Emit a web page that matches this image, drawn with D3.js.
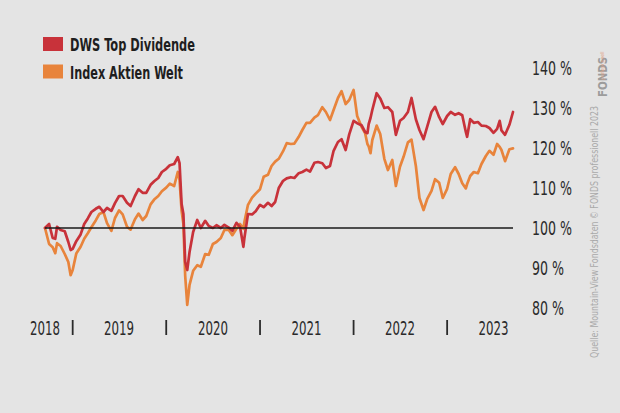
<!DOCTYPE html>
<html><head><meta charset="utf-8">
<script src="https://cdn.jsdelivr.net/npm/d3@7/dist/d3.min.js"></script>
<style>
html,body{margin:0;padding:0;background:#e4e4e4;}
svg{display:block;}
text{font-family:"Liberation Sans Narrow","DejaVu Sans Condensed","Roboto",sans-serif;}
</style></head>
<body>
<svg id="c" width="620" height="413"></svg>
<script>
const seriesNames = ["DWS Top Dividende", "Index Aktien Welt"];
const seriesColors = ["#c8323a", "#e8843c"];
const yTicks = [80, 90, 100, 110, 120, 130, 140];
const yearLabels = ["2018", "2019", "2020", "2021", "2022", "2023"];
const yearLabelDates = ["2018-09-15", "2019-07-01", "2020-07-01", "2021-07-01", "2022-07-01", "2023-07-01"];
const yearBreaks = ["2019-01-01", "2020-01-01", "2021-01-01", "2022-01-01", "2023-01-01"];

const dates = [
"2018-09-15","2018-10-01","2018-10-15","2018-10-25","2018-11-01","2018-11-15","2018-12-01","2018-12-15","2018-12-24",
"2019-01-01","2019-01-15","2019-02-01","2019-02-15","2019-03-01","2019-03-15","2019-04-01","2019-04-15","2019-05-01","2019-05-15",
"2019-06-01","2019-06-15","2019-07-01","2019-07-15","2019-08-01","2019-08-15","2019-09-01","2019-09-15","2019-10-01","2019-10-15",
"2019-11-01","2019-11-15","2019-12-01","2019-12-15",
"2020-01-01","2020-01-15","2020-02-01","2020-02-15","2020-02-22","2020-03-01","2020-03-08","2020-03-15","2020-03-23","2020-04-01",
"2020-04-15","2020-05-01","2020-05-15","2020-06-01","2020-06-15","2020-07-01","2020-07-15","2020-08-01","2020-08-15","2020-09-01",
"2020-09-15","2020-10-01","2020-10-15","2020-10-28","2020-11-01","2020-11-15","2020-12-01","2020-12-15",
"2021-01-01","2021-01-15","2021-02-01","2021-02-15","2021-03-01","2021-03-15","2021-04-01","2021-04-15","2021-05-01","2021-05-15",
"2021-06-01","2021-06-15","2021-07-01","2021-07-15","2021-08-01","2021-08-15","2021-09-01","2021-09-15","2021-10-01","2021-10-15",
"2021-11-01","2021-11-15","2021-12-01","2021-12-15",
"2022-01-01","2022-01-15","2022-02-01","2022-02-15","2022-02-24","2022-03-01","2022-03-08","2022-03-15","2022-04-01","2022-04-15",
"2022-05-01","2022-05-15","2022-06-01","2022-06-15","2022-07-01","2022-07-15","2022-08-01","2022-08-15","2022-09-01","2022-09-15",
"2022-10-01","2022-10-15","2022-11-01","2022-11-15","2022-12-01","2022-12-15",
"2023-01-01","2023-01-15","2023-02-01","2023-02-15","2023-03-01","2023-03-15","2023-03-20","2023-04-01","2023-04-15","2023-05-01",
"2023-05-15","2023-06-01","2023-06-15","2023-07-01","2023-07-15","2023-07-25","2023-08-01","2023-08-15","2023-09-01","2023-09-15"
];

const dwsValues = [
100,101,97.5,97.3,100.3,99.5,99.2,96.5,94.5,
94.8,96.7,98.4,101,102.4,104,104.8,105.3,104,105,
104.3,106.2,108,108,106.3,105.5,108,109.7,108.8,108.8,
110.8,111.7,112.5,114,
114.8,115.7,116,117.7,116.2,106,103.5,91.5,89.5,94,
99,102,100,101.8,100.5,100,100.7,100,100.8,100.1,
99.3,101.3,100.3,95.3,97.5,103.5,103.4,104.2,
105.8,105.2,106.3,105.5,106.5,110,111.8,112.4,112.7,112.5,
113.7,114,114.6,114.1,116.3,116.5,116.2,115,115.5,119.3,
121.5,122.2,119.5,123.4,
126.8,126.2,125.7,124,123.7,126,127.5,129.5,133.7,132.4,
130,130.2,129,123.3,126.8,127.5,129,132.5,127.2,124.5,
122.2,125.3,129,130.3,127.7,126,
128,129,128.3,128.7,128.2,124,122.8,127.2,126.3,126.5,
125.6,125.5,125,123.8,124.8,126.8,124.4,123.3,125.8,129
];

const indexValues = [
100,96,95.2,93.7,96.2,95.5,93.5,91.5,88.2,
89.5,93.6,95.3,97.3,98.7,100.2,101.9,103.5,104,101.2,
99.3,102.5,104.4,103.4,100.3,99.6,102.2,103.6,102,103,
105.9,107.1,108,109.2,
110.1,111.1,110.5,114,112,104.3,101,88,80.8,85.8,
89.3,90.7,90.3,93.5,93.3,96,96.5,97.5,99.5,99.5,
98.2,99.8,101,99.8,101.5,105.8,107.6,108.6,
109.7,112.8,113.3,115.5,116.6,117.3,119.2,121.2,121,121.1,
122.8,124.5,126.3,126.3,127.6,128.2,130.2,129,127,129.5,
132.5,134.2,131,132,
134.5,128,125.3,123.7,121,120.4,118.7,122,125.6,123.5,
117.3,114.5,117,110.5,115.3,117.8,121.4,122.1,115.5,107.5,
104.5,107.2,109.3,112.2,111.3,107.5,
109.8,113.5,115.2,113.5,111.2,109.9,111,113,114,113.7,
116,118,119.3,118.3,121,120.3,119.5,116.7,119.7,119.9
];

const parse = d3.timeParse("%Y-%m-%d");
const series = [
  dates.map((d, i) => ({date: parse(d), v: dwsValues[i]})),
  dates.map((d, i) => ({date: parse(d), v: indexValues[i]}))
];

const svg = d3.select("#c");
svg.append("rect").attr("width", 620).attr("height", 413).attr("fill", "#e4e4e4");

const x = d3.scaleTime().domain([parse("2018-09-15"), parse("2023-09-15")]).range([45, 513]);
const y = d3.scaleLinear().domain([80, 140]).range([308, 68]);

const line = d3.line().x(d => x(d.date)).y(d => y(d.v)).curve(d3.curveLinear);

[1, 0].forEach(i => {
  svg.append("path").datum(series[i])
    .attr("fill", "none").attr("stroke", seriesColors[i])
    .attr("stroke-width", 2.7).attr("stroke-linejoin", "round").attr("stroke-linecap", "round")
    .attr("d", line);
});

svg.append("line")
  .attr("x1", x.range()[0]).attr("x2", x.range()[1])
  .attr("y1", y(100)).attr("y2", y(100))
  .attr("stroke", "#1a1a1a").attr("stroke-width", 1.4);

// y labels
svg.append("g").selectAll("text").data(yTicks).join("text")
  .attr("x", 532).attr("y", d => y(d)).attr("dy", "0.36em")
  .attr("font-size", 20).attr("fill", "#2a2a2a")
  .attr("textLength", d => d >= 100 ? 40 : 32).attr("lengthAdjust", "spacingAndGlyphs")
  .text(d => d + " %");

// x labels
svg.append("g").selectAll("text").data(yearLabels).join("text")
  .attr("x", (d, i) => x(parse(yearLabelDates[i])) - 15).attr("y", 335)
  .attr("font-size", 20).attr("fill", "#2a2a2a")
  .attr("textLength", 30).attr("lengthAdjust", "spacingAndGlyphs")
  .text(d => d);

svg.append("g").selectAll("line").data(yearBreaks).join("line")
  .attr("x1", d => x(parse(d))).attr("x2", d => x(parse(d)))
  .attr("y1", 320).attr("y2", 335)
  .attr("stroke", "#2a2a2a").attr("stroke-width", 1.8);

// legend
const legendWidths = [125, 113];
const lg = svg.append("g");
seriesNames.forEach((n, i) => {
  lg.append("rect").attr("x", 43).attr("y", 37 + i * 27.5).attr("width", 20).attr("height", 14)
    .attr("fill", seriesColors[i]);
  lg.append("text").attr("x", 70).attr("y", 51 + i * 27.5)
    .attr("font-size", 18).attr("font-weight", "bold").attr("fill", "#1e1e1e")
    .attr("textLength", legendWidths[i]).attr("lengthAdjust", "spacingAndGlyphs")
    .text(n);
});

// credits
svg.append("text")
  .attr("transform", "translate(598,358) rotate(-90)")
  .attr("font-size", 11).attr("fill", "#a9a9a9")
  .attr("textLength", 252).attr("lengthAdjust", "spacingAndGlyphs")
  .text("Quelle: Mountain-View Fondsdaten   © FONDS professionell 2023");
svg.append("text")
  .attr("transform", "translate(607,97) rotate(-90)")
  .attr("font-size", 13).attr("font-weight", "bold").attr("fill", "#9c9c9c")
  .attr("textLength", 40).attr("lengthAdjust", "spacingAndGlyphs")
  .text("FONDS");
svg.append("text")
  .attr("transform", "translate(604,80) rotate(-90)")
  .attr("font-size", 5).attr("fill", "#e0a080")
  .text("professionell");
</script>
</body></html>
